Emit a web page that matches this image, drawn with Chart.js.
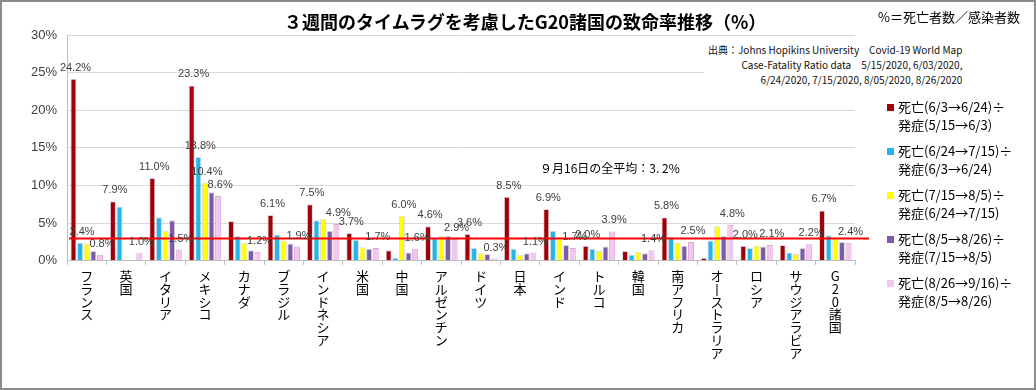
<!DOCTYPE html>
<html lang="ja">
<head>
<meta charset="UTF-8">
<title>G20諸国の致命率推移</title>
<style>
  body { margin: 0; background: #fff; }
  #wrap { position: relative; width: 1036px; height: 390px; box-sizing: border-box; border: 2px solid #8c8c8c; overflow: hidden; font-family: "Noto Sans CJK JP", "Liberation Sans", sans-serif; }
  #wrap canvas { position: absolute; left: -2px; top: -2px; }
  .txt { position: absolute; white-space: nowrap; color: #000; }
  #title { left: 282px; top: 6px; font-size: 18px; font-weight: bold; }
  #ratio { left: 876px; top: 5px; font-size: 13px; }
  #src { left: 702px; top: 39px; font-size: 10px; line-height: 15px; background: #fff; padding: 1px 4px 8px 4px; font-family: "Liberation Sans Narrow", "Noto Sans CJK JP", sans-serif; color: #111; }
  #src div { text-align: right; }
  #legend { left: 884px; top: 96px; font-size: 13px; line-height: 18px; }
  .item { position: relative; padding-left: 12px; margin-bottom: 8px; }
  .item i { position: absolute; left: 1px; top: 6px; width: 7px; height: 7px; }
  #avg { left: 538px; top: 157px; font-size: 12px; }
</style>
</head>
<body>
<div id="wrap">
  <canvas id="myChart" width="1036" height="390"></canvas>
  <div class="txt" id="title">３週間のタイムラグを考慮したG20諸国の致命率推移（%）</div>
  <div class="txt" id="ratio">%＝死亡者数／感染者数</div>
  <div class="txt" id="src">
    <div>出典：Johns Hopikins University　Covid-19 World Map</div>
    <div>Case-Fatality Ratio data　5/15/2020, 6/03/2020,</div>
    <div>6/24/2020, 7/15/2020, 8/05/2020, 8/26/2020</div>
  </div>
  <div class="txt" id="legend"></div>
  <div class="txt" id="avg">９月16日の全平均：3. 2%</div>
</div>

<script src="https://cdn.jsdelivr.net/npm/chart.js@4.4.1/dist/chart.umd.min.js"></script>
<script>
// 国名
const countries = ['フランス', '英国', 'イタリア', 'メキシコ', 'カナダ', 'ブラジル', 'インドネシア', '米国', '中国', 'アルゼンチン',
  'ドイツ', '日本', 'インド', 'トルコ', '韓国', '南アフリカ', 'オーストラリア', 'ロシア', 'サウジアラビア', 'G20諸国'];

// 各期間の致命率（%）
const cfr1 = [24.2, 7.9, 11.0, 23.3, 5.3, 6.1, 7.5, 3.7, 1.4, 4.6, 3.6, 8.5, 6.9, 2.0, 1.3, 5.8, 0.4, 2.0, 2.1, 6.7];
const cfr2 = [2.4, 7.2, 5.8, 13.8, 3.3, 3.5, 5.4, 2.8, 0.4, 3.0, 1.7, 1.6, 4.0, 1.6, 0.8, 3.2, 2.7, 1.7, 1.1, 3.4];
const cfr3 = [2.3, 0, 4.0, 10.4, 2.4, 2.7, 5.6, 1.8, 6.0, 3.3, 1.0, 0.8, 3.2, 1.3, 1.2, 2.4, 4.6, 2.0, 0.9, 3.0];
const cfr4 = [1.3, 0, 5.4, 9.1, 1.4, 2.3, 4.0, 1.6, 1.1, 3.3, 0.9, 1.0, 2.1, 1.9, 1.0, 2.0, 3.3, 1.9, 1.7, 2.5];
const cfr5 = [0.8, 1.0, 1.5, 8.6, 1.2, 1.9, 4.9, 1.7, 1.6, 2.9, 0.3, 1.1, 1.7, 3.9, 1.4, 2.5, 4.8, 2.1, 2.2, 2.4];

const seriesNames = [
  ['死亡(6/3→6/24)÷', '発症(5/15→6/3)'],
  ['死亡(6/24→7/15)÷', '発症(6/3→6/24)'],
  ['死亡(7/15→8/5)÷', '発症(6/24→7/15)'],
  ['死亡(8/5→8/26)÷', '発症(7/15→8/5)'],
  ['死亡(8/26→9/16)÷', '発症(8/5→8/26)']
];
const colors = ['#a0000a', '#22b6ea', '#ffff00', '#7b5aa6', '#f2c6ee'];

// 数値ラベルを表示する系列（国ごと）
const labelSeries = [[0, 1, 4], [0, 4], [0, 4], [0, 1, 2, 4], [4], [0, 4], [0, 4], [0, 4], [2, 4], [0, 4],
  [0, 4], [0, 4], [0, 4], [0, 4], [4], [0, 4], [4], [0, 4], [4], [0, 4]];

const avgLine = 2.95; // 赤線の位置
const yTicks = [0, 5, 10, 15, 20, 25, 30];

// 凡例（HTML）
document.getElementById('legend').innerHTML = seriesNames.map((n, i) =>
  '<div class="item"><i style="background:' + colors[i] + '"></i>' + n[0] + '<br>' + n[1] + '</div>').join('');

const allData = [cfr1, cfr2, cfr3, cfr4, cfr5];

// 赤い平均線と数値ラベル
const extras = {
  id: 'extras',
  afterDatasetsDraw(chart) {
    const c = chart.ctx, area = chart.chartArea;
    const y = chart.scales.y.getPixelForValue(avgLine);
    c.save();
    c.strokeStyle = '#ff0000';
    c.lineWidth = 2;
    c.beginPath();
    c.moveTo(area.left + 2, y);
    c.lineTo(area.right + 14, y);
    c.stroke();

    c.font = '11px "Liberation Sans", sans-serif';
    c.fillStyle = '#404040';
    c.textAlign = 'center';
    c.textBaseline = 'middle';
    labelSeries.forEach((list, idx) => {
      list.forEach(s => {
        const bar = chart.getDatasetMeta(s).data[idx];
        c.fillText(allData[s][idx].toFixed(1) + '%', bar.x + 2, bar.y - 11);
      });
    });
    c.restore();
  }
};

const ctx = document.getElementById('myChart');
new Chart(ctx, {
  type: 'bar',
  data: {
    labels: countries,
    datasets: allData.map((d, i) => ({
      label: seriesNames[i].join(''),
      data: d,
      backgroundColor: colors[i],
      borderColor: i === 4 ? '#d9a6d4' : 'rgba(0,0,0,0.15)',
      borderWidth: 1,
      categoryPercentage: 0.84,
      barPercentage: 0.92
    }))
  },
  options: {
    responsive: false,
    animation: false,
    layout: { padding: { left: 21, right: 181, top: 35, bottom: 26 } },
    plugins: { legend: { display: false }, tooltip: { enabled: false } },
    scales: {
      x: {
        grid: { drawOnChartArea: false, drawTicks: true, tickLength: 4, color: '#bfbfbf', offset: true },
        border: { color: '#bfbfbf' },
        ticks: {
          autoSkip: false, maxRotation: 0, minRotation: 0, padding: 5,
          color: '#000',
          font: { family: '"Noto Sans CJK JP", sans-serif', size: 13, lineHeight: 0.98 },
          callback: function (v) {
            return this.getLabelForValue(v).replace(/ー/g, '丨').split('');
          }
        }
      },
      y: {
        min: 0, max: 30,
        afterBuildTicks: s => { s.ticks = yTicks.map(v => ({ value: v })); },
        grid: { color: '#d9d9d9', drawTicks: false },
        border: { color: '#bfbfbf' },
        ticks: {
          padding: 10, color: '#404040',
          font: { family: '"Liberation Sans", sans-serif', size: 13 },
          callback: v => v + '%'
        }
      }
    }
  },
  plugins: [extras]
});
</script>
</body>
</html>
